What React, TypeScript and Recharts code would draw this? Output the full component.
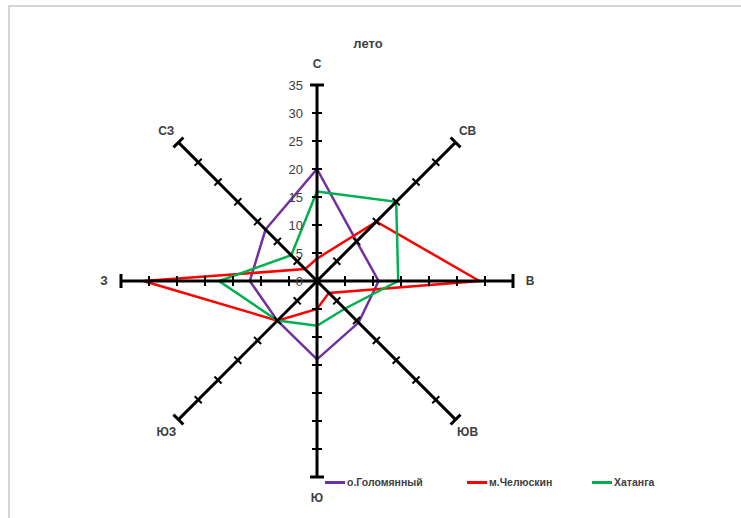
import React from "react";
import {
  RadarChart,
  Radar,
  PolarAngleAxis,
  PolarRadiusAxis,
  Legend,
} from "recharts";

// directions of the wind rose, clockwise from north
const directions = ["С", "СВ", "В", "ЮВ", "Ю", "ЮЗ", "З", "СЗ"];

// repeatability, %
const golomyanny = [20, 10, 11, 10.5, 14, 10, 12, 13];
const chelyuskin = [4, 15, 29, 3, 5, 10, 31, 3];
const khatanga = [16, 20, 14.5, 7, 8, 10, 17.5, 6.5];

const radiusTicks = [0, 5, 10, 15, 20, 25, 30, 35];

const SERIES = [
  { key: "golomyanny", name: "о.Голомянный", color: "#7030A0" },
  { key: "chelyuskin", name: "м.Челюскин", color: "#FF0000" },
  { key: "khatanga", name: "Хатанга", color: "#00B050" },
];

const data = directions.map((dir, i) => ({
  dir,
  golomyanny: golomyanny[i],
  chelyuskin: chelyuskin[i],
  khatanga: khatanga[i],
}));

const WIDTH = 741;
const HEIGHT = 518;
const CX = 317;
const CY = 281;
const R = 196;
const MAX = 35;
const FONT = "'Liberation Sans', Arial, sans-serif";
const TEXT = "#404040";

// each direction tick draws its own black axis with cross marks and a T cap
function DirectionTick(props: any) {
  const { payload } = props;
  const cx = typeof props.cx === "number" ? props.cx : CX;
  const cy = typeof props.cy === "number" ? props.cy : CY;
  const rad = (-payload.coordinate * Math.PI) / 180;
  const ux = Math.cos(rad);
  const uy = Math.sin(rad);
  const px = -uy;
  const py = ux;
  const at = (r: number) => [cx + ux * r, cy + uy * r];
  const [ex, ey] = at(R);
  const vertical = Math.abs(ux) < 0.01;
  const [lx, ly] = at(R + (vertical ? 21 : 17));

  return (
    <g>
      <line x1={cx} y1={cy} x2={ex} y2={ey} stroke="#000" strokeWidth={3} />
      {radiusTicks
        .filter((t) => t > 0 && t < MAX)
        .map((t) => {
          const [tx, ty] = at((R * t) / MAX);
          return (
            <line
              key={t}
              x1={tx - px * 5}
              y1={ty - py * 5}
              x2={tx + px * 5}
              y2={ty + py * 5}
              stroke="#000"
              strokeWidth={2}
            />
          );
        })}
      <line
        x1={ex - px * 7}
        y1={ey - py * 7}
        x2={ex + px * 7}
        y2={ey + py * 7}
        stroke="#000"
        strokeWidth={3}
      />
      <text
        x={lx}
        y={ly}
        dy="0.35em"
        textAnchor="middle"
        fill={TEXT}
        fontSize={12}
        fontWeight="bold"
        fontFamily={FONT}
      >
        {payload.value}
      </text>
    </g>
  );
}

function RadiusTick(props: any) {
  const { x, y, payload } = props;
  return (
    <text
      x={x - 14}
      y={y}
      dy="0.35em"
      textAnchor="end"
      fill={TEXT}
      fontSize={13}
      fontFamily={FONT}
    >
      {payload.value}
    </text>
  );
}

const legendLeft = [325, 467, 592];

function LegendContent() {
  return (
    <div style={{ position: "relative", height: 16 }}>
      {SERIES.map((s, i) => (
        <div
          key={s.key}
          style={{
            position: "absolute",
            left: legendLeft[i],
            top: 0,
            display: "flex",
            alignItems: "center",
            fontFamily: FONT,
            fontSize: 10.5,
            fontWeight: "bold",
            color: TEXT,
            whiteSpace: "nowrap",
          }}
        >
          <span
            style={{
              display: "inline-block",
              width: 20,
              height: 3,
              background: s.color,
              marginRight: 2,
            }}
          />
          {s.name}
        </div>
      ))}
    </div>
  );
}

export default function App() {
  return (
    <div
      style={{
        position: "absolute",
        left: 0,
        top: 0,
        width: WIDTH,
        height: HEIGHT,
        background: "#fff",
      }}
    >
      <div
        style={{
          position: "absolute",
          left: 9,
          top: 5,
          width: WIDTH - 9,
          height: 2,
          background: "#d4d4d4",
        }}
      />
      <div
        style={{
          position: "absolute",
          left: 8,
          top: 5,
          width: 2,
          height: HEIGHT - 5,
          background: "#d4d4d4",
        }}
      />
      <div
        style={{
          position: "absolute",
          left: 340,
          top: 36,
          width: 56,
          textAlign: "center",
          fontFamily: FONT,
          fontSize: 13,
          fontWeight: "bold",
          color: TEXT,
        }}
      >
        лето
      </div>
      <RadarChart
        width={WIDTH}
        height={HEIGHT}
        data={data}
        cx={CX}
        cy={CY}
        outerRadius={R}
        margin={{ top: 0, right: 0, bottom: 0, left: 0 }}
        style={{ position: "absolute", left: 0, top: 0 }}
      >
        <PolarAngleAxis
          dataKey="dir"
          axisLine={false}
          tickLine={false}
          tick={<DirectionTick />}
        />
        <PolarRadiusAxis
          angle={90}
          domain={[0, MAX]}
          ticks={radiusTicks}
          axisLine={false}
          tickLine={false}
          tick={<RadiusTick />}
        />
        {SERIES.map((s) => (
          <Radar
            key={s.key}
            name={s.name}
            dataKey={s.key}
            stroke={s.color}
            strokeWidth={2.5}
            fill="none"
            fillOpacity={0}
            dot={false}
            isAnimationActive={false}
          />
        ))}
        <Legend
          content={<LegendContent />}
          wrapperStyle={{ position: "absolute", left: 0, top: 476, width: WIDTH }}
        />
      </RadarChart>
    </div>
  );
}
